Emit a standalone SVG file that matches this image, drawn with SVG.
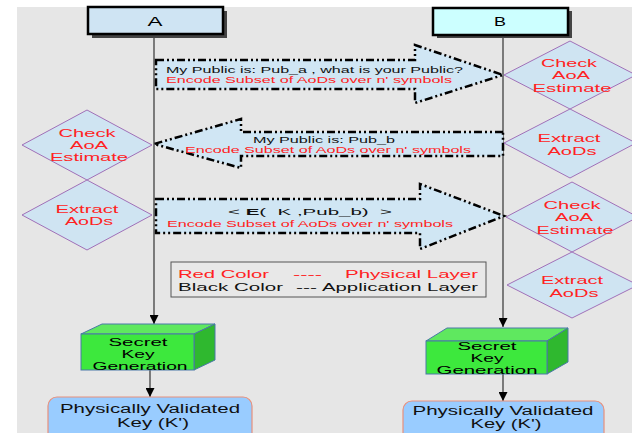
<svg xmlns="http://www.w3.org/2000/svg" width="632" height="433" viewBox="0 0 632 433">
<defs>
<marker id="ah" viewBox="0 0 10 10" refX="10" refY="5" markerWidth="9" markerHeight="9" markerUnits="userSpaceOnUse" orient="auto"><path d="M0,0 L10,5 L0,10 z" fill="#000"/></marker>
<style>
text{font-family:"Liberation Sans",Arial,sans-serif;}
.lbl{font-size:12px;fill:#000;text-anchor:middle;}
.dt{font-size:11.5px;fill:#ff2222;text-anchor:middle;}
.at{font-size:9.5px;fill:#111;}
.ar{font-size:9.5px;fill:#ff2222;}
.ct{font-size:11.5px;fill:#000;text-anchor:middle;}
.kt{font-size:12.5px;fill:#111;text-anchor:middle;}
.lg{font-size:11.5px;}
.dia{fill:#cfe4f2;stroke:#a070b8;stroke-width:1;}
.bigarrow{fill:#d0e6f4;stroke:#000;stroke-width:2.5;stroke-dasharray:8 3 2 3 2 3;}
.life{stroke:#333;stroke-width:1.2;fill:none;}
.head{stroke:#000;stroke-width:2.5;}
.kbox{fill:#99ccff;stroke:#e8907c;stroke-width:1.2;}
.cube{stroke:#4a78a8;stroke-width:1;}
</style>
</defs>
<rect x="17" y="7" width="615" height="426" fill="#e6e6e6"/>

<g id="connectors">
<line class="life" x1="154" y1="34" x2="154" y2="324" marker-end="url(#ah)"/>
<line class="life" x1="503" y1="35" x2="503" y2="327" marker-end="url(#ah)"/>
<line class="life" x1="150" y1="370" x2="150" y2="397" marker-end="url(#ah)"/>
<line class="life" x1="503" y1="374" x2="503" y2="401" marker-end="url(#ah)"/>
</g>

<g id="nodeA">
<rect x="92" y="11" width="135" height="27" fill="#444"/>
<rect class="head" x="88" y="7" width="135" height="27" fill="#cfe4f3"/>
<text class="lbl" x="155" y="25.5" textLength="15" lengthAdjust="spacingAndGlyphs">A</text>
</g>
<g id="nodeB">
<rect x="437" y="11" width="135" height="27" fill="#444"/>
<rect class="head" x="433" y="8" width="135" height="27" fill="#ccffff"/>
<text class="lbl" x="500" y="26" textLength="12" lengthAdjust="spacingAndGlyphs">B</text>
</g>

<g id="msg1">
<polygon class="bigarrow" points="156,60 415,60 415,45 503,75 415,103 415,89 156,89"/>
<text class="at" x="166" y="72.5" textLength="297" lengthAdjust="spacingAndGlyphs">My Public is: Pub_a , what is your Public?</text>
<text class="ar" x="166" y="82.5" textLength="286" lengthAdjust="spacingAndGlyphs">Encode Subset of AoDs over n' symbols</text>
</g>
<g id="msg2">
<polygon class="bigarrow" points="503,132 241,132 241,119 154,144 241,168 241,156 503,156"/>
<text class="at" x="253" y="142.5" textLength="142" lengthAdjust="spacingAndGlyphs">My Public is: Pub_b</text>
<text class="ar" x="185" y="152.5" textLength="286" lengthAdjust="spacingAndGlyphs">Encode Subset of AoDs over n' symbols</text>
</g>
<g id="msg3">
<polygon class="bigarrow" points="156,199 420,199 420,184 504,216 420,249 420,233 156,233"/>
<text class="at" x="228" y="215" font-size="11.5" xml:space="preserve" textLength="164" lengthAdjust="spacingAndGlyphs">&lt; <tspan font-weight="bold">E</tspan>(  K ,Pub_b)  &gt;</text>
<text class="ar" x="167" y="227" textLength="286" lengthAdjust="spacingAndGlyphs">Encode Subset of AoDs over n' symbols</text>
</g>

<g id="checkA">
<polygon class="dia" points="87,110 152,145 87,180 22,145"/>
<text class="dt" x="87" y="136.5" textLength="57" lengthAdjust="spacingAndGlyphs">Check</text>
<text class="dt" x="89" y="148.5" textLength="38" lengthAdjust="spacingAndGlyphs">AoA</text>
<text class="dt" x="89" y="161" textLength="78" lengthAdjust="spacingAndGlyphs">Estimate</text>
</g>
<g id="extractA">
<polygon class="dia" points="87,180 152,215 87,250 22,215"/>
<text class="dt" x="87" y="212.5" textLength="63" lengthAdjust="spacingAndGlyphs">Extract</text>
<text class="dt" x="89" y="224.5" textLength="48" lengthAdjust="spacingAndGlyphs">AoDs</text>
</g>

<g id="checkB1">
<polygon class="dia" points="570,41 636,75 570,109 504,75"/>
<text class="dt" x="569" y="66.5" textLength="56" lengthAdjust="spacingAndGlyphs">Check</text>
<text class="dt" x="571" y="79" textLength="38" lengthAdjust="spacingAndGlyphs">AoA</text>
<text class="dt" x="572" y="91.5" textLength="79" lengthAdjust="spacingAndGlyphs">Estimate</text>
</g>
<g id="extractB1">
<polygon class="dia" points="570,109 636,143 570,178 504,143"/>
<text class="dt" x="569" y="141.5" textLength="63" lengthAdjust="spacingAndGlyphs">Extract</text>
<text class="dt" x="572" y="154.5" textLength="49" lengthAdjust="spacingAndGlyphs">AoDs</text>
</g>
<g id="checkB2">
<polygon class="dia" points="572,182 638,217 572,252 506,217"/>
<text class="dt" x="572" y="208.5" textLength="57" lengthAdjust="spacingAndGlyphs">Check</text>
<text class="dt" x="574" y="221" textLength="38" lengthAdjust="spacingAndGlyphs">AoA</text>
<text class="dt" x="575" y="233.5" textLength="77" lengthAdjust="spacingAndGlyphs">Estimate</text>
</g>
<g id="extractB2">
<polygon class="dia" points="572,252 638,285 572,318 507,285"/>
<text class="dt" x="572" y="283.5" textLength="62" lengthAdjust="spacingAndGlyphs">Extract</text>
<text class="dt" x="574" y="296.5" textLength="49" lengthAdjust="spacingAndGlyphs">AoDs</text>
</g>

<g id="legend">
<rect x="171" y="262" width="315" height="35" fill="#e8e8e8" stroke="#555" stroke-width="1"/>
<text class="lg" x="178" y="277.5" fill="#ff2222" textLength="91" lengthAdjust="spacingAndGlyphs">Red Color</text>
<text class="lg" x="293" y="277.5" fill="#ff2222" textLength="29" lengthAdjust="spacingAndGlyphs">----</text>
<text class="lg" x="345" y="277.5" fill="#ff2222" textLength="133" lengthAdjust="spacingAndGlyphs">Physical Layer</text>
<text class="lg" x="178" y="290.5" fill="#111" textLength="105" lengthAdjust="spacingAndGlyphs">Black Color</text>
<text class="lg" x="296" y="290.5" fill="#111" textLength="21" lengthAdjust="spacingAndGlyphs">---</text>
<text class="lg" x="322" y="290.5" fill="#111" textLength="156" lengthAdjust="spacingAndGlyphs">Application Layer</text>
</g>

<g id="skgA">
<polygon class="cube" points="81,334 102,324 215,324 194,334" fill="#5fe85f"/>
<polygon class="cube" points="194,334 215,324 215,360 194,370" fill="#2fb82f"/>
<rect class="cube" x="81" y="334" width="113" height="36" fill="#3de83d"/>
<text class="ct" x="138" y="345.5" textLength="59" lengthAdjust="spacingAndGlyphs">Secret</text>
<text class="ct" x="138" y="357.5" textLength="33" lengthAdjust="spacingAndGlyphs">Key</text>
<text class="ct" x="140" y="369.5" textLength="95" lengthAdjust="spacingAndGlyphs">Generation</text>
</g>
<g id="skgB">
<polygon class="cube" points="426,341 447,328 568,328 547,341" fill="#5fe85f"/>
<polygon class="cube" points="547,341 568,328 568,362 547,374" fill="#2fb82f"/>
<rect class="cube" x="426" y="341" width="121" height="33" fill="#3de83d"/>
<text class="ct" x="487" y="349.5" textLength="59" lengthAdjust="spacingAndGlyphs">Secret</text>
<text class="ct" x="487" y="361.5" textLength="33" lengthAdjust="spacingAndGlyphs">Key</text>
<text class="ct" x="487" y="374" textLength="101" lengthAdjust="spacingAndGlyphs">Generation</text>
</g>

<g id="keyA">
<rect class="kbox" x="48" y="397" width="204" height="50" rx="9"/>
<text class="kt" x="150" y="412.5" textLength="180" lengthAdjust="spacingAndGlyphs">Physically Validated</text>
<text class="kt" x="153" y="426.5" textLength="72" lengthAdjust="spacingAndGlyphs">Key (K')</text>
</g>
<g id="keyB">
<rect class="kbox" x="403" y="401" width="201" height="46" rx="9"/>
<text class="kt" x="503" y="414.5" textLength="181" lengthAdjust="spacingAndGlyphs">Physically Validated</text>
<text class="kt" x="506" y="427.5" textLength="71" lengthAdjust="spacingAndGlyphs">Key (K')</text>
</g>
</svg>
